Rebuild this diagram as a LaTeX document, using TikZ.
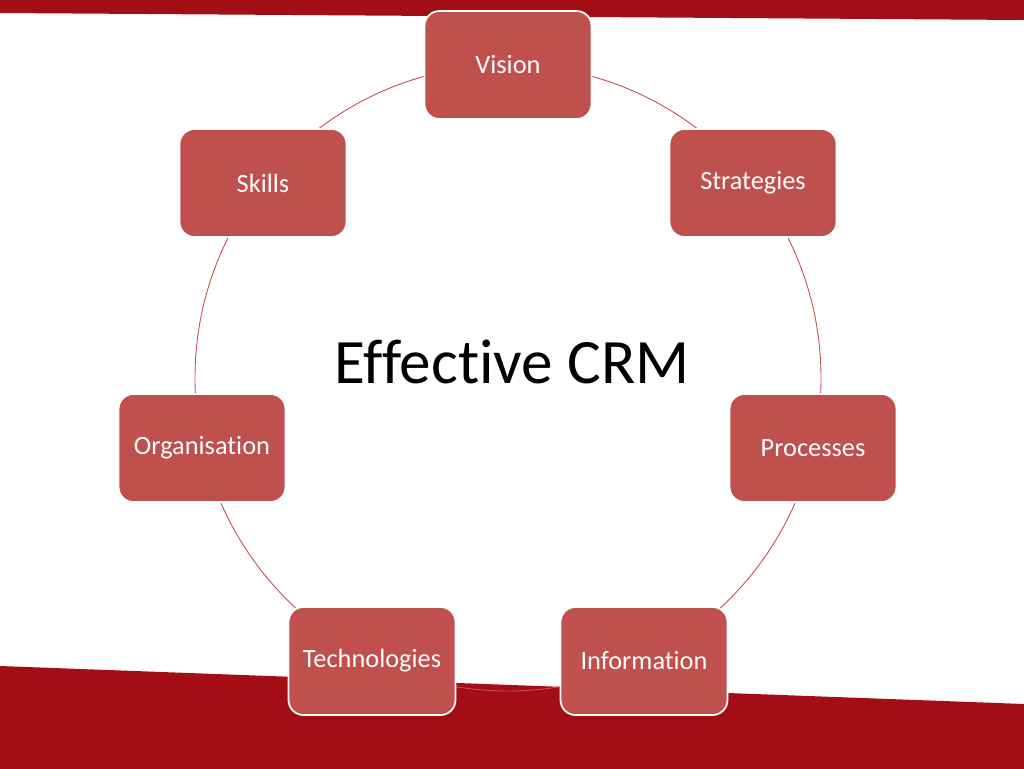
\documentclass[tikz,border=0pt]{standalone}
\usepackage{fontspec}
\setmainfont{Carlito}[Ligatures={NoCommon}]
\usepackage{xcolor}
\usepackage{tikz}
\usetikzlibrary{positioning}
\definecolor{bandred}{HTML}{A30E15}
\definecolor{boxred}{HTML}{C0504D}
\tikzstyle{stage} = [rectangle, rounded corners=8.5pt, minimum width=3.34cm, minimum height=2.16cm, text centered, draw=white, line width=1pt, fill=boxred, text=white, font=\fontsize{15}{18}\selectfont]
\tikzstyle{ring} = [draw=boxred, line width=0.5pt]

\begin{document}
\begin{tikzpicture}[x=0.02cm, y=-0.02cm]
    \useasboundingbox (0,0) rectangle (1024,768);
    % Background bands
    \fill[bandred] (-5,-5) -- (1030,-5) -- (1030,20) -- (1024,20) -- (0,13) -- (-5,13) -- cycle;
    \fill[bandred] (-5,666) -- (0,666) -- (1024,704) -- (1030,704) -- (1030,775) -- (-5,775) -- cycle;

    % Cycle ring
    \coordinate (hub) at (508,378);
    \draw[ring] (hub) circle[radius=313];

    % Title
    \node (crm) at (512,362) {\fontsize{36}{40}\selectfont Effective CRM};

    % Stages
    \node[stage] (vision) at (508,65) {Vision};
    \node[stage] (strategies) at (753,183) {Strategies};
    \node[stage] (processes) at (813,448) {Processes};
    \node[stage] (information) at (644,661) {Information};
    \node[stage] (technologies) at (372,661) {Technologies};
    \node[stage] (organisation) at (202,448) {Organisation};
    \node[stage] (skills) at (263,183) {Skills};
\end{tikzpicture}
\end{document}
